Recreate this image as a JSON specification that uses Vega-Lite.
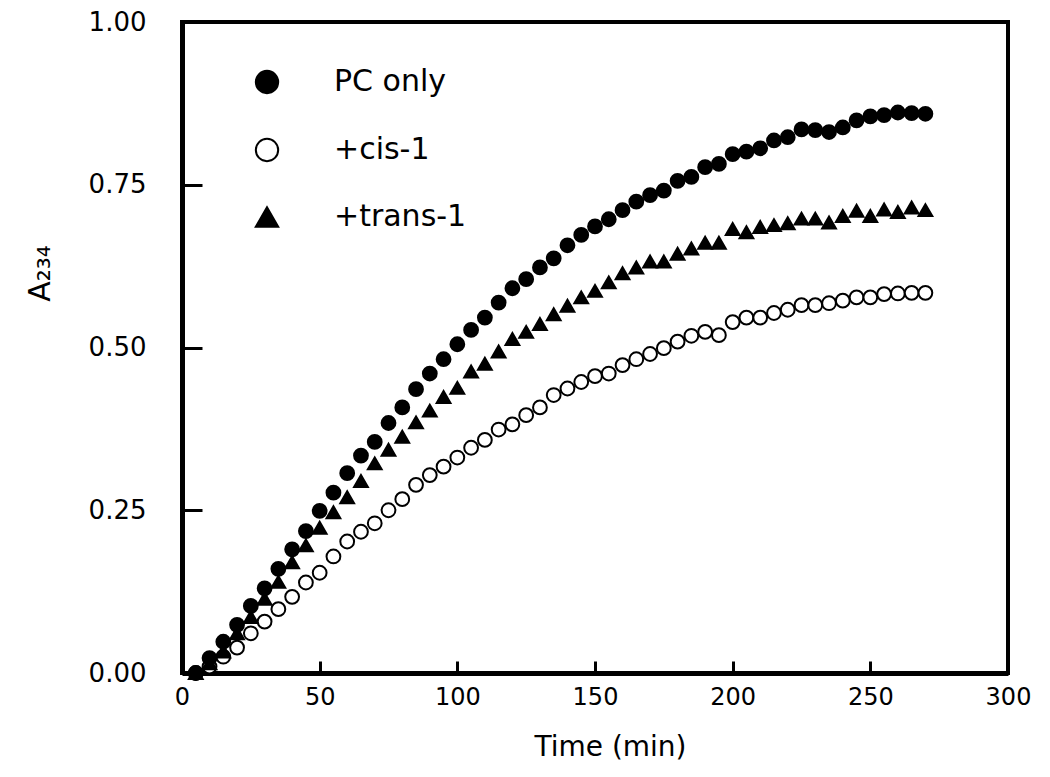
{
  "$schema": "https://vega.github.io/schema/vega-lite/v6.json",
  "width": 826,
  "height": 651,
  "autosize": {"type": "none"},
  "padding": {"left": 182, "top": 22, "right": 42, "bottom": 104},
  "background": "white",
  "config": {
    "view": {"stroke": "black", "strokeWidth": 4},
    "axis": {
      "domainColor": "black", "domainWidth": 5, "tickColor": "black", "tickWidth": 3,
      "grid": false, "labelColor": "black", "titleColor": "black",
      "labelFont": "DejaVu Sans", "titleFont": "DejaVu Sans", "titleFontWeight": "normal"
    },
    "legend": {
      "orient": "none", "legendX": 70, "legendY": 45, "title": null,
      "labelFont": "DejaVu Sans", "labelFontSize": 30, "labelColor": "black",
      "symbolSize": 500, "rowPadding": 36, "labelOffset": 52, "padding": 0,
      "symbolStrokeWidth": 2
    }
  },
  "data": {"values": [
    {"t":5,"series":"+cis-1","A":0.000},{"t":10,"series":"+cis-1","A":0.010},{"t":15,"series":"+cis-1","A":0.025},{"t":20,"series":"+cis-1","A":0.039},{"t":25,"series":"+cis-1","A":0.061},{"t":30,"series":"+cis-1","A":0.079},{"t":35,"series":"+cis-1","A":0.098},{"t":40,"series":"+cis-1","A":0.117},{"t":45,"series":"+cis-1","A":0.139},{"t":50,"series":"+cis-1","A":0.154},{"t":55,"series":"+cis-1","A":0.179},{"t":60,"series":"+cis-1","A":0.202},{"t":65,"series":"+cis-1","A":0.217},{"t":70,"series":"+cis-1","A":0.230},{"t":75,"series":"+cis-1","A":0.250},{"t":80,"series":"+cis-1","A":0.267},{"t":85,"series":"+cis-1","A":0.289},{"t":90,"series":"+cis-1","A":0.304},{"t":95,"series":"+cis-1","A":0.317},{"t":100,"series":"+cis-1","A":0.331},{"t":105,"series":"+cis-1","A":0.346},{"t":110,"series":"+cis-1","A":0.358},{"t":115,"series":"+cis-1","A":0.374},{"t":120,"series":"+cis-1","A":0.382},{"t":125,"series":"+cis-1","A":0.396},{"t":130,"series":"+cis-1","A":0.408},{"t":135,"series":"+cis-1","A":0.427},{"t":140,"series":"+cis-1","A":0.437},{"t":145,"series":"+cis-1","A":0.447},{"t":150,"series":"+cis-1","A":0.456},{"t":155,"series":"+cis-1","A":0.460},{"t":160,"series":"+cis-1","A":0.473},{"t":165,"series":"+cis-1","A":0.482},{"t":170,"series":"+cis-1","A":0.490},{"t":175,"series":"+cis-1","A":0.499},{"t":180,"series":"+cis-1","A":0.509},{"t":185,"series":"+cis-1","A":0.518},{"t":190,"series":"+cis-1","A":0.524},{"t":195,"series":"+cis-1","A":0.519},{"t":200,"series":"+cis-1","A":0.539},{"t":205,"series":"+cis-1","A":0.546},{"t":210,"series":"+cis-1","A":0.546},{"t":215,"series":"+cis-1","A":0.553},{"t":220,"series":"+cis-1","A":0.558},{"t":225,"series":"+cis-1","A":0.565},{"t":230,"series":"+cis-1","A":0.565},{"t":235,"series":"+cis-1","A":0.568},{"t":240,"series":"+cis-1","A":0.572},{"t":245,"series":"+cis-1","A":0.577},{"t":250,"series":"+cis-1","A":0.577},{"t":255,"series":"+cis-1","A":0.582},{"t":260,"series":"+cis-1","A":0.583},{"t":265,"series":"+cis-1","A":0.584},{"t":270,"series":"+cis-1","A":0.584},
    {"t":5,"series":"+trans-1","A":0.000},{"t":10,"series":"+trans-1","A":0.015},{"t":15,"series":"+trans-1","A":0.033},{"t":20,"series":"+trans-1","A":0.061},{"t":25,"series":"+trans-1","A":0.086},{"t":30,"series":"+trans-1","A":0.114},{"t":35,"series":"+trans-1","A":0.140},{"t":40,"series":"+trans-1","A":0.170},{"t":45,"series":"+trans-1","A":0.196},{"t":50,"series":"+trans-1","A":0.223},{"t":55,"series":"+trans-1","A":0.247},{"t":60,"series":"+trans-1","A":0.270},{"t":65,"series":"+trans-1","A":0.295},{"t":70,"series":"+trans-1","A":0.322},{"t":75,"series":"+trans-1","A":0.343},{"t":80,"series":"+trans-1","A":0.363},{"t":85,"series":"+trans-1","A":0.385},{"t":90,"series":"+trans-1","A":0.403},{"t":95,"series":"+trans-1","A":0.424},{"t":100,"series":"+trans-1","A":0.438},{"t":105,"series":"+trans-1","A":0.463},{"t":110,"series":"+trans-1","A":0.475},{"t":115,"series":"+trans-1","A":0.494},{"t":120,"series":"+trans-1","A":0.513},{"t":125,"series":"+trans-1","A":0.524},{"t":130,"series":"+trans-1","A":0.536},{"t":135,"series":"+trans-1","A":0.551},{"t":140,"series":"+trans-1","A":0.564},{"t":145,"series":"+trans-1","A":0.577},{"t":150,"series":"+trans-1","A":0.587},{"t":155,"series":"+trans-1","A":0.600},{"t":160,"series":"+trans-1","A":0.614},{"t":165,"series":"+trans-1","A":0.623},{"t":170,"series":"+trans-1","A":0.632},{"t":175,"series":"+trans-1","A":0.632},{"t":180,"series":"+trans-1","A":0.644},{"t":185,"series":"+trans-1","A":0.652},{"t":190,"series":"+trans-1","A":0.661},{"t":195,"series":"+trans-1","A":0.661},{"t":200,"series":"+trans-1","A":0.682},{"t":205,"series":"+trans-1","A":0.677},{"t":210,"series":"+trans-1","A":0.685},{"t":215,"series":"+trans-1","A":0.688},{"t":220,"series":"+trans-1","A":0.691},{"t":225,"series":"+trans-1","A":0.698},{"t":230,"series":"+trans-1","A":0.698},{"t":235,"series":"+trans-1","A":0.692},{"t":240,"series":"+trans-1","A":0.702},{"t":245,"series":"+trans-1","A":0.710},{"t":250,"series":"+trans-1","A":0.702},{"t":255,"series":"+trans-1","A":0.712},{"t":260,"series":"+trans-1","A":0.708},{"t":265,"series":"+trans-1","A":0.715},{"t":270,"series":"+trans-1","A":0.711},
    {"t":5,"series":"PC only","A":0.000},{"t":10,"series":"PC only","A":0.023},{"t":15,"series":"PC only","A":0.048},{"t":20,"series":"PC only","A":0.074},{"t":25,"series":"PC only","A":0.103},{"t":30,"series":"PC only","A":0.130},{"t":35,"series":"PC only","A":0.160},{"t":40,"series":"PC only","A":0.190},{"t":45,"series":"PC only","A":0.218},{"t":50,"series":"PC only","A":0.249},{"t":55,"series":"PC only","A":0.277},{"t":60,"series":"PC only","A":0.307},{"t":65,"series":"PC only","A":0.334},{"t":70,"series":"PC only","A":0.355},{"t":75,"series":"PC only","A":0.384},{"t":80,"series":"PC only","A":0.408},{"t":85,"series":"PC only","A":0.436},{"t":90,"series":"PC only","A":0.460},{"t":95,"series":"PC only","A":0.482},{"t":100,"series":"PC only","A":0.505},{"t":105,"series":"PC only","A":0.527},{"t":110,"series":"PC only","A":0.546},{"t":115,"series":"PC only","A":0.569},{"t":120,"series":"PC only","A":0.591},{"t":125,"series":"PC only","A":0.605},{"t":130,"series":"PC only","A":0.623},{"t":135,"series":"PC only","A":0.637},{"t":140,"series":"PC only","A":0.657},{"t":145,"series":"PC only","A":0.673},{"t":150,"series":"PC only","A":0.686},{"t":155,"series":"PC only","A":0.697},{"t":160,"series":"PC only","A":0.711},{"t":165,"series":"PC only","A":0.724},{"t":170,"series":"PC only","A":0.734},{"t":175,"series":"PC only","A":0.741},{"t":180,"series":"PC only","A":0.756},{"t":185,"series":"PC only","A":0.762},{"t":190,"series":"PC only","A":0.777},{"t":195,"series":"PC only","A":0.782},{"t":200,"series":"PC only","A":0.797},{"t":205,"series":"PC only","A":0.801},{"t":210,"series":"PC only","A":0.806},{"t":215,"series":"PC only","A":0.818},{"t":220,"series":"PC only","A":0.823},{"t":225,"series":"PC only","A":0.835},{"t":230,"series":"PC only","A":0.834},{"t":235,"series":"PC only","A":0.831},{"t":240,"series":"PC only","A":0.838},{"t":245,"series":"PC only","A":0.849},{"t":250,"series":"PC only","A":0.855},{"t":255,"series":"PC only","A":0.857},{"t":260,"series":"PC only","A":0.861},{"t":265,"series":"PC only","A":0.860},{"t":270,"series":"PC only","A":0.859}
  ]},
  "mark": {"type": "point", "strokeWidth": 2, "opacity": 1, "size": 190},
  "encoding": {
    "x": {
      "field": "t", "type": "quantitative",
      "scale": {"domain": [0, 300], "nice": false, "zero": false},
      "axis": {
        "values": [0, 50, 100, 150, 200, 250, 300], "tickSize": -12, "labelPadding": 24,
        "labelFontSize": 24, "labelFlush": false, "title": "Time (min)", "titleFontSize": 28,
        "titleX": 428, "titleY": 82, "titleBaseline": "alphabetic", "titleAnchor": "middle"
      }
    },
    "y": {
      "field": "A", "type": "quantitative",
      "scale": {"domain": [0, 1], "nice": false},
      "axis": {
        "values": [0, 0.25, 0.5, 0.75, 1], "format": ".2f", "tickSize": -20, "labelPadding": 56,
        "labelFontSize": 26, "labelFlush": false, "title": "A₂₃₄", "titleFontSize": 30,
        "titleAngle": -90, "titleX": -142, "titleY": 251, "titleAlign": "center", "titleBaseline": "middle"
      }
    },
    "shape": {
      "field": "series", "type": "nominal",
      "scale": {"domain": ["PC only", "+cis-1", "+trans-1"], "range": ["circle", "circle", "triangle-up"]}
    },
    "fill": {
      "field": "series", "type": "nominal",
      "scale": {"domain": ["PC only", "+cis-1", "+trans-1"], "range": ["black", "white", "black"]}
    },
    "stroke": {
      "field": "series", "type": "nominal",
      "scale": {"domain": ["PC only", "+cis-1", "+trans-1"], "range": ["black", "black", "black"]}
    }
  }
}
